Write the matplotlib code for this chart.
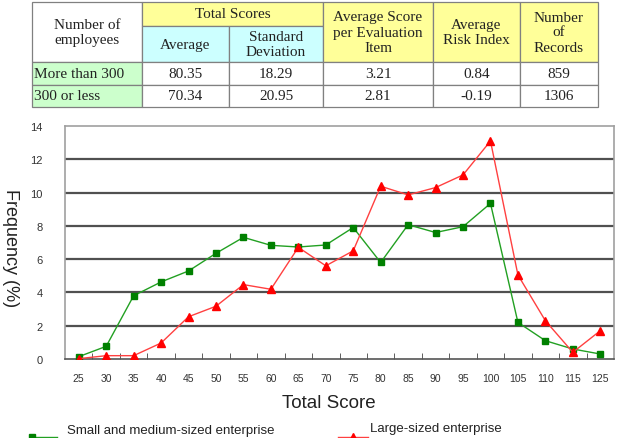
import matplotlib.pyplot as plt
from matplotlib.lines import Line2D
from matplotlib.patches import Rectangle

# --- data ---
scores = ['25', '30', '35', '40', '45', '50', '55', '60', '65', '70',
          '75', '80', '85', '90', '95', '100', '105', '110', '115', '125']
sme = [0.14, 0.76, 3.8, 4.63, 5.29, 6.35, 7.31, 6.83, 6.73, 6.85,
       7.9, 5.8, 8.07, 7.6, 7.95, 9.35, 2.2, 1.1, 0.6, 0.3]
large = [0.02, 0.2, 0.2, 0.96, 2.54, 3.17, 4.47, 4.19, 6.71, 5.6,
         6.5, 10.38, 9.86, 10.3, 11.06, 13.1, 5.05, 2.3, 0.4, 1.7]
sme_label = 'Small and medium-sized enterprise'
large_label = 'Large-sized enterprise'

row_labels = ['More than 300', '300 or less']
avg_scores = ['80.35', '70.34']
std_devs = ['18.29', '20.95']
avg_item = ['3.21', '2.81']
risk_idx = ['0.84', '-0.19']
n_records = ['859', '1306']

W, H = 627, 439
fig = plt.figure(figsize=(W / 100, H / 100), dpi=100)

# --- table (pixel coords, y down) ---
tab = fig.add_axes([0, 0, 1, 1])
tab.set_xlim(0, W)
tab.set_ylim(H, 0)
tab.axis('off')
tab.set_zorder(-1)

cx = [32, 142, 229, 323, 433, 520, 598]
ry = [3, 27, 63, 86, 108]
yellow, cyan, green = '#ffff99', '#ccffff', '#ccffcc'
serif = 'Liberation Serif'

def cell(c0, c1, r0, r1, txt, color='white', ha='center'):
    x0, x1, y0, y1 = cx[c0], cx[c1], ry[r0], ry[r1]
    tab.add_patch(Rectangle((x0, y0), x1 - x0, y1 - y0, facecolor=color,
                            edgecolor='#808080', lw=0.9))
    if ha == 'left':
        tx = x0 + 2
    else:
        tx = (x0 + x1) / 2
    tab.text(tx, (y0 + y1) / 2, txt, ha=ha, va='center', family=serif,
             fontsize=11, color='#222222', linespacing=1.2)

cell(0, 1, 0, 2, 'Number of\nemployees')
cell(1, 3, 0, 1, 'Total Scores', yellow)
cell(1, 2, 1, 2, 'Average', cyan)
cell(2, 3, 1, 2, 'Standard\nDeviation', cyan)
cell(3, 4, 0, 2, 'Average Score\nper Evaluation\nItem', yellow)
cell(4, 5, 0, 2, 'Average\nRisk Index', yellow)
cell(5, 6, 0, 2, 'Number\nof\nRecords', yellow)
for i in range(2):
    cell(0, 1, 2 + i, 3 + i, row_labels[i], green, ha='left')
    cell(1, 2, 2 + i, 3 + i, avg_scores[i])
    cell(2, 3, 2 + i, 3 + i, std_devs[i])
    cell(3, 4, 2 + i, 3 + i, avg_item[i])
    cell(4, 5, 2 + i, 3 + i, risk_idx[i])
    cell(5, 6, 2 + i, 3 + i, n_records[i])

# --- chart ---
sans = 'Liberation Sans'
ax = fig.add_axes([65 / W, 1 - 360 / H, 549 / W, 233 / H])
x = list(range(len(scores)))
ax.plot(x, sme, color='#22a022', lw=1, marker='s', ms=5,
        mfc='#008000', mec='#008000', zorder=3)
ax.plot(x, large, color='#ff4040', lw=1, marker='^', ms=6,
        mfc='#ff0000', mec='#ff0000', zorder=4)

ax.set_xlim(-0.5, len(scores) - 0.5)
ax.set_ylim(0, 14)
ax.set_yticks(range(0, 15, 2))
ax.set_yticklabels([str(v) for v in range(0, 15, 2)], family=sans,
                   fontsize=8, color='#333333')
ax.set_xticks(x)
ax.set_xticklabels(scores, family=sans, fontsize=7.5, color='#333333')
ax.tick_params(axis='x', length=0, pad=10)
ax.tick_params(axis='y', length=0, pad=16)
ax.set_xticks([i + 0.5 for i in x[:-1]], minor=True)
ax.tick_params(axis='x', which='minor', direction='in', length=4,
               color='#444444')
for v in range(2, 14, 2):
    ax.axhline(v, color='#505050', lw=1.6, zorder=1)
for s in ['top', 'right', 'left']:
    ax.spines[s].set_color('#a0a0a0')
    ax.spines[s].set_linewidth(1.2)
ax.spines['bottom'].set_color('#555555')
ax.spines['bottom'].set_linewidth(1.2)

fig.text(329 / W, 1 - 404 / H, 'Total Score', ha='center', va='center',
         family=sans, fontsize=13.5, color='#222222')
fig.text(10 / W, 1 - 248 / H, 'Frequency (%)', ha='center', va='center',
         rotation=270, family=sans, fontsize=13, color='#222222')

# --- legend (cut off at bottom as in the original) ---
fig.add_artist(Line2D([32 / W, 57 / W], [1 - 438 / H] * 2, color='#22a022',
                      lw=1, marker='s', ms=5, markevery=[0], mfc='#008000',
                      mec='#008000', transform=fig.transFigure))
fig.text(67 / W, 1 - 431 / H, sme_label, ha='left', va='center',
         family=sans, fontsize=9.5, color='#222222')
fig.add_artist(Line2D([338 / W, 353 / W, 368 / W], [1 - 438 / H] * 3,
                      color='#ff4040', lw=1, marker='^', ms=6,
                      markevery=[1], mfc='#ff0000', mec='#ff0000',
                      transform=fig.transFigure))
fig.text(370 / W, 1 - 429 / H, large_label, ha='left', va='center',
         family=sans, fontsize=9.5, color='#222222')

fig.savefig('out.png', dpi=100)
